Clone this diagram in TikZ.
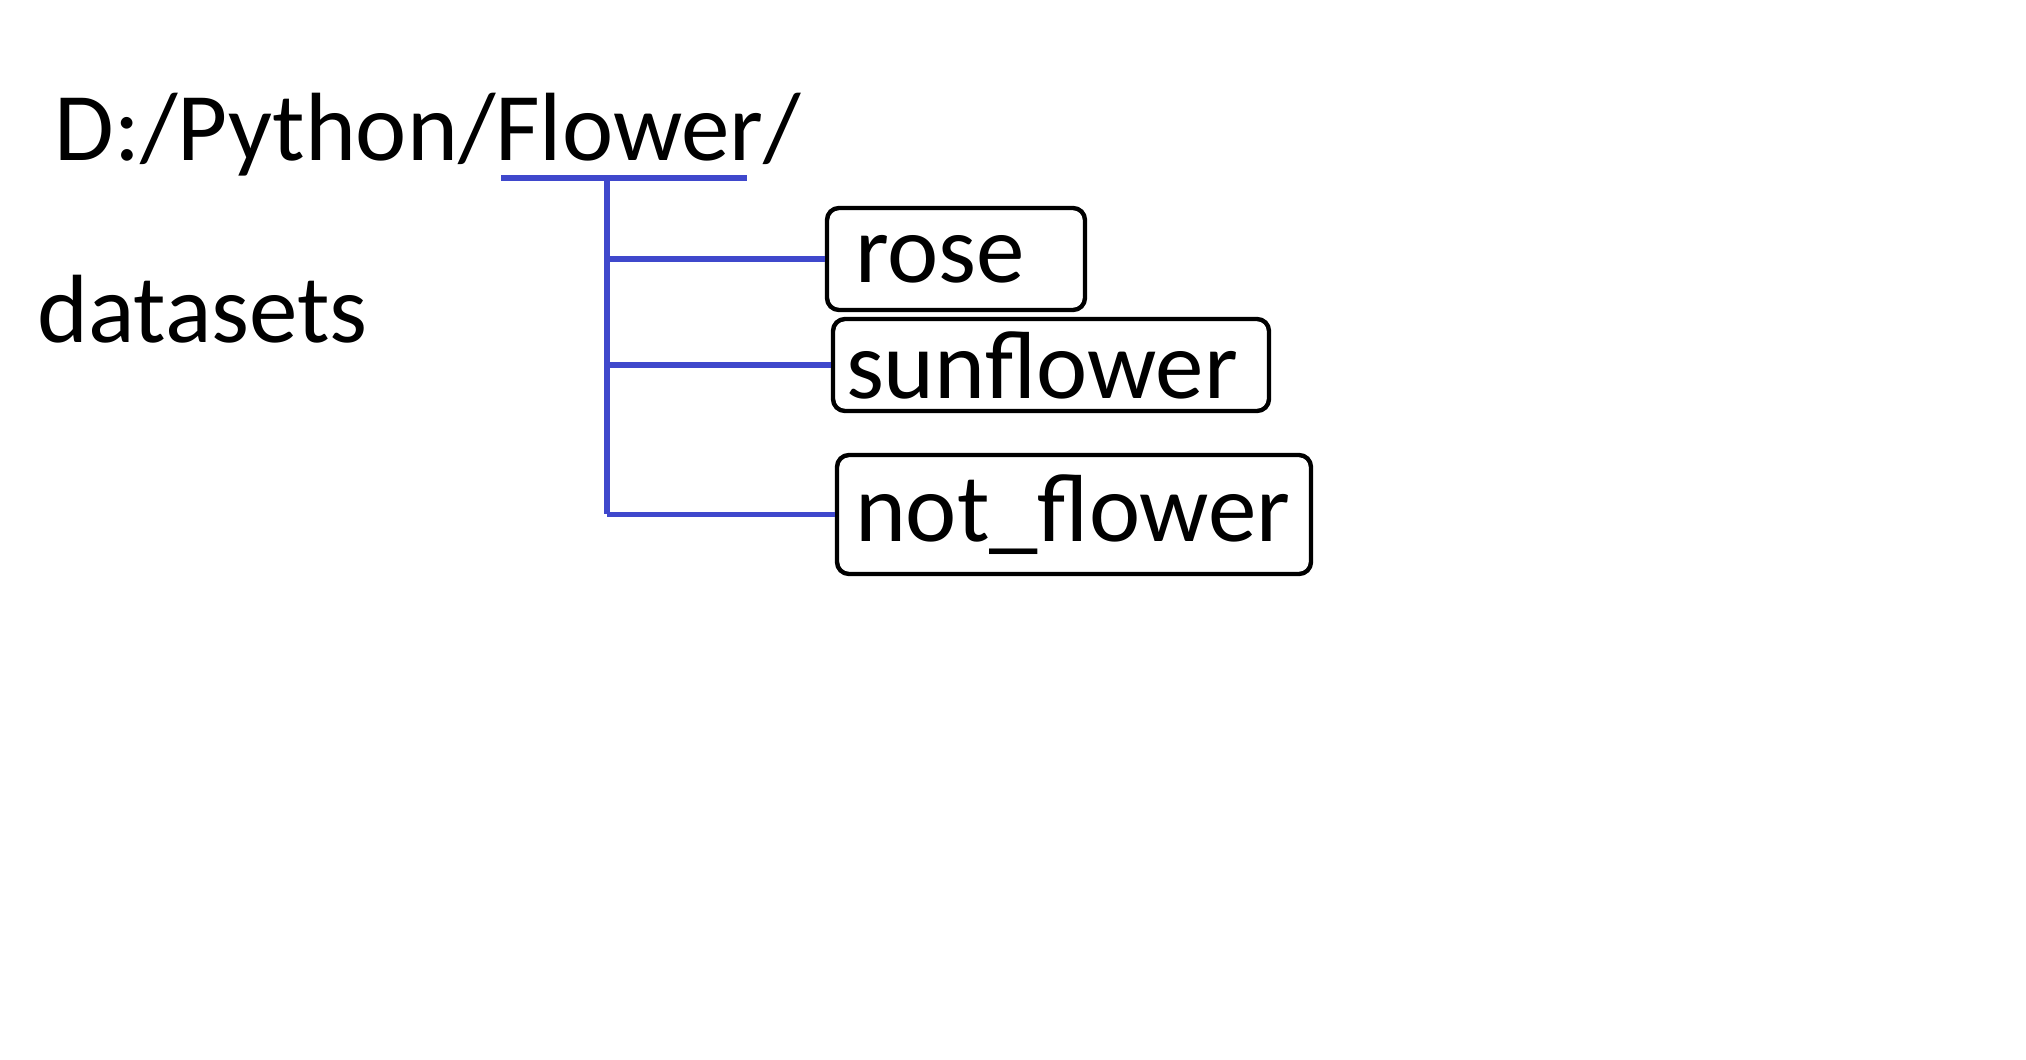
\documentclass[tikz,border=0pt]{standalone}
\usepackage{fontspec}
\setmainfont{Carlito}
\usepackage{xcolor}
\usetikzlibrary{positioning, calc}
\definecolor{treeblue}{RGB}{63,72,204}
\tikzset{
  dirbox/.style={
    draw, rounded corners=6pt, line width=2.2pt, align=left,
    inner ysep=0pt, font=\fontsize{48.5}{58}\selectfont
  },
  pathlabel/.style={inner sep=0pt, anchor=base west, font=\fontsize{48.5}{58}\selectfont},
  treeline/.style={draw=treeblue, line width=2.8pt},
}

\begin{document}
\begin{tikzpicture}[x=0.5pt, y=-0.5pt]
  \useasboundingbox (0,0) rectangle (2026,1060);

  \node[pathlabel] (root) at (54,160) {D:/Python/Flower/};
  \node[pathlabel] (datasets) at (37,342) {datasets};

  \node[dirbox, text width=101pt, inner xsep=14pt, minimum height=51pt] (rose) at (956,259) {rose};
  \node[dirbox, text width=205pt, inner xsep=6.5pt, minimum height=46pt] (sunflower) at (1051,365) {sunflower};
  \node[dirbox, text width=219pt, inner xsep=9pt, minimum height=59.5pt] (notflower) at (1074,514.5) {not\_flower};

  % underline of Flower and the trunk below it
  \coordinate (ulleft) at (501,178);
  \coordinate (ulright) at (747,178);
  \coordinate (trunktop) at (607,178);
  \coordinate (trunkbot) at (607,514);

  \draw[treeline] (ulleft) -- (ulright);
  \draw[treeline] (trunktop) -- (trunkbot);
  \draw[treeline] (rose.west -| trunktop) -- (rose.west);
  \draw[treeline] (sunflower.west -| trunktop) -- (sunflower.west);
  \draw[treeline] (notflower.west -| trunktop) -- (notflower.west);
\end{tikzpicture}
\end{document}
